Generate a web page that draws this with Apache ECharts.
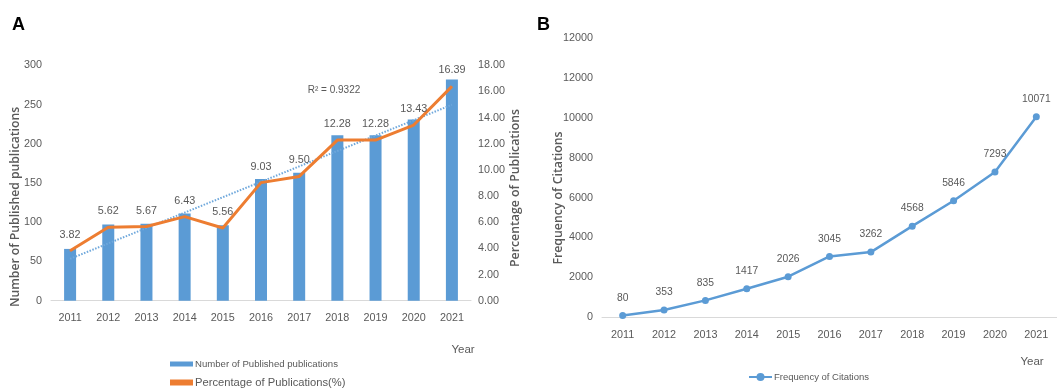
<!DOCTYPE html>
<html>
<head>
<meta charset="utf-8">
<title>Publications and citations, 2011–2021</title>
<script src="https://cdn.jsdelivr.net/npm/echarts@6/dist/echarts.min.js"></script>
<style>
  html, body { margin: 0; padding: 0; background: #ffffff; }
  #chart { width: 1057px; height: 390px; }
</style>
</head>
<body>
<div id="chart"></div>
<script>
// Years shared by both panels
const years = ['2011', '2012', '2013', '2014', '2015', '2016', '2017', '2018', '2019', '2020', '2021'];

// Panel A: yearly publication counts and share of all publications (%)
const publications = [66, 97, 98, 111, 96, 155, 163, 211, 211, 231, 282];
const percentages = [3.82, 5.62, 5.67, 6.43, 5.56, 9.03, 9.50, 12.28, 12.28, 13.43, 16.39];
const trendLabel = 'R\u00b2 = 0.9322';

// Panel B: yearly citation frequency
const citations = [80, 353, 835, 1417, 2026, 3045, 3262, 4568, 5846, 7293, 10071];

// Tick labels
const publicationTicks = ['0', '50', '100', '150', '200', '250', '300'];
const percentageTicks = ['0.00', '2.00', '4.00', '6.00', '8.00', '10.00', '12.00', '14.00', '16.00', '18.00'];
const citationTicks = ['0', '2000', '4000', '6000', '8000', '10000', '12000', '12000'];

// Least-squares linear trend of the percentage series
function linearTrend(values) {
  const n = values.length;
  const xs = values.map((_, i) => i + 1);
  const mx = xs.reduce((a, b) => a + b, 0) / n;
  const my = values.reduce((a, b) => a + b, 0) / n;
  let sxy = 0, sxx = 0;
  for (let i = 0; i < n; i++) {
    sxy += (xs[i] - mx) * (values[i] - my);
    sxx += (xs[i] - mx) * (xs[i] - mx);
  }
  const slope = sxy / sxx;
  return xs.map(x => +(my + slope * (x - mx)).toFixed(4));
}
const percentageTrend = linearTrend(percentages);

const BLUE = '#5b9bd5';
const ORANGE = '#ed7d31';
const GREY = '#595959';
const SANS = '"Liberation Sans", Arial, sans-serif';
const TITLE_FONT = '"Open Sans", "Liberation Sans", sans-serif';

const tickText = { color: GREY, fontFamily: SANS, fontSize: 10.8 };

const chart = echarts.init(document.getElementById('chart'), null, { renderer: 'canvas' });

chart.setOption({
  animation: false,
  backgroundColor: '#ffffff',
  grid: [
    { left: 51, top: 65.3, width: 420, height: 235.4 },
    { left: 602, top: 38.5, width: 457, height: 278.5 }
  ],
  xAxis: [
    {
      gridIndex: 0, type: 'category', data: years,
      axisLine: { lineStyle: { color: '#d9d9d9', width: 1 } },
      axisTick: { show: false },
      axisLabel: Object.assign({ margin: 12 }, tickText)
    },
    {
      gridIndex: 1, type: 'category', data: years,
      axisLine: { lineStyle: { color: '#d9d9d9', width: 1 } },
      axisTick: { show: false },
      axisLabel: Object.assign({ margin: 13 }, tickText)
    }
  ],
  yAxis: [
    {
      gridIndex: 0, type: 'value', min: 0, max: 300, interval: 50,
      axisLine: { show: false }, axisTick: { show: false }, splitLine: { show: false },
      axisLabel: Object.assign({ margin: 9, formatter: (v, i) => publicationTicks[i] }, tickText)
    },
    {
      gridIndex: 0, type: 'value', position: 'right', min: 0, max: 18, interval: 2,
      axisLine: { show: false }, axisTick: { show: false }, splitLine: { show: false },
      axisLabel: Object.assign({ margin: 7, formatter: (v, i) => percentageTicks[i] }, tickText)
    },
    {
      gridIndex: 1, type: 'value', min: 0, max: 14000, interval: 2000,
      axisLine: { show: false }, axisTick: { show: false }, splitLine: { show: false },
      axisLabel: Object.assign({ margin: 9, formatter: (v, i) => citationTicks[i] }, tickText)
    }
  ],
  legend: [
    {
      data: ['Number of Published publications'],
      left: 170, top: 359, padding: 0,
      itemWidth: 23, itemHeight: 5, icon: 'rect',
      textStyle: { color: GREY, fontFamily: SANS, fontSize: 9.6, padding: [0, 0, 0, -3] }
    },
    {
      data: ['Percentage of Publications(%)'],
      left: 170, top: 377, padding: 0,
      itemWidth: 23, itemHeight: 6, icon: 'rect',
      textStyle: { color: GREY, fontFamily: SANS, fontSize: 11.2, padding: [0, 0, 0, -3] }
    },
    {
      data: ['Frequency of Citations'],
      left: 748, top: 372, padding: 0,
      itemWidth: 23, itemHeight: 10,
      textStyle: { color: GREY, fontFamily: SANS, fontSize: 9.5, padding: [0, 0, 0, -3] }
    }
  ],
  series: [
    {
      name: 'Number of Published publications', type: 'bar',
      xAxisIndex: 0, yAxisIndex: 0, data: publications,
      barWidth: 12,
      itemStyle: { color: BLUE },
      z: 1
    },
    {
      name: 'Linear trend', type: 'line',
      xAxisIndex: 0, yAxisIndex: 1, data: percentageTrend,
      symbol: 'none', silent: true,
      lineStyle: { color: '#6fa8dc', width: 2, type: [1.5, 1.5] },
      z: 3
    },
    {
      name: 'Percentage of Publications(%)', type: 'line',
      xAxisIndex: 0, yAxisIndex: 1, data: percentages,
      symbol: 'circle', symbolSize: 1, showSymbol: true,
      lineStyle: { color: ORANGE, width: 3 },
      itemStyle: { color: ORANGE },
      label: {
        show: true, position: 'top', distance: 10,
        color: GREY, fontFamily: SANS, fontSize: 10.8,
        formatter: p => Number(p.value).toFixed(2)
      },
      z: 4
    },
    {
      name: 'Frequency of Citations', type: 'line',
      xAxisIndex: 1, yAxisIndex: 2, data: citations,
      symbol: 'circle', symbolSize: 7,
      lineStyle: { color: BLUE, width: 2.5 },
      itemStyle: { color: BLUE },
      label: {
        show: true, position: 'top', distance: 9,
        color: GREY, fontFamily: SANS, fontSize: 10.3
      },
      z: 4
    }
  ],
  graphic: [
    { type: 'text', left: 12, top: 16, style: { text: 'A', font: 'bold 18px "Liberation Sans", Arial, sans-serif', fill: '#000' } },
    { type: 'text', left: 537, top: 16, style: { text: 'B', font: 'bold 18px "Liberation Sans", Arial, sans-serif', fill: '#000' } },
    {
      type: 'text', x: 16, y: 207, rotation: Math.PI / 2,
      style: { text: 'Number of Published publications', align: 'center', verticalAlign: 'middle',
               font: '600 12.2px ' + TITLE_FONT, fill: GREY }
    },
    {
      type: 'text', x: 515, y: 188, rotation: Math.PI / 2,
      style: { text: 'Percentage of Publications', align: 'center', verticalAlign: 'middle',
               font: '600 12.3px ' + TITLE_FONT, fill: GREY }
    },
    {
      type: 'text', x: 558, y: 198, rotation: Math.PI / 2,
      style: { text: 'Frequency of Citations', align: 'center', verticalAlign: 'middle',
               font: '600 12.3px ' + TITLE_FONT, fill: GREY }
    },
    {
      type: 'text', x: 463, y: 350,
      style: { text: 'Year', align: 'center', verticalAlign: 'middle', font: '11.5px ' + SANS, fill: GREY }
    },
    {
      type: 'text', x: 1032, y: 362,
      style: { text: 'Year', align: 'center', verticalAlign: 'middle', font: '11.5px ' + SANS, fill: GREY }
    },
    {
      type: 'text', x: 334, y: 90,
      style: { text: trendLabel, align: 'center', verticalAlign: 'middle', font: '10px ' + SANS, fill: GREY }
    }
  ]
});
</script>
</body>
</html>
